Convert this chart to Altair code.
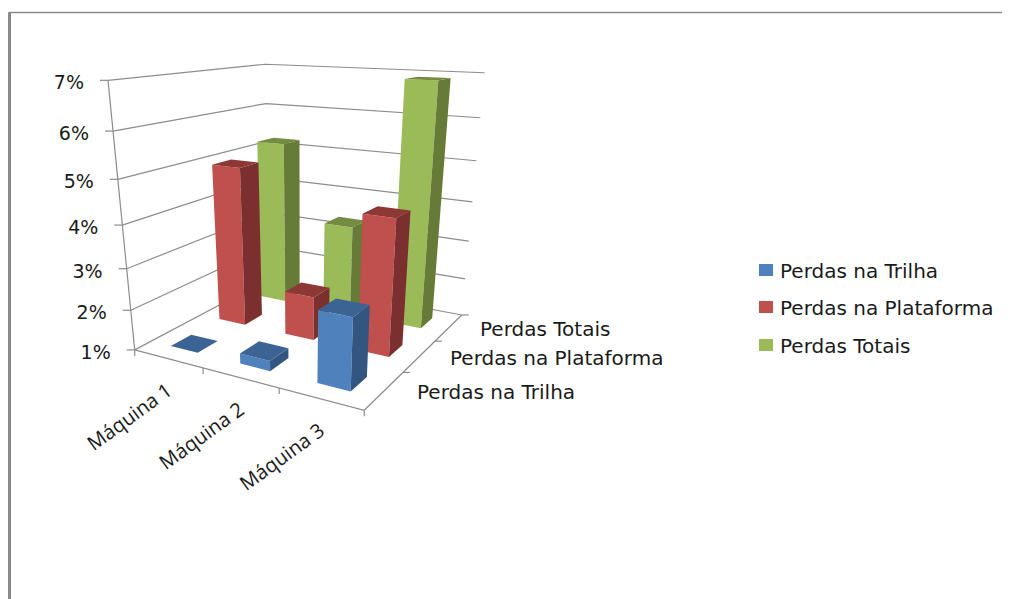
import altair as alt
import numpy as np
import pandas as pd

MACHINES = ["Máquina 1", "Máquina 2", "Máquina 3"]
SERIES = ["Perdas na Trilha", "Perdas na Plataforma", "Perdas Totais"]
TRILHA = [1.0, 1.25, 2.68]
PLATAFORMA = [4.95, 2.1, 4.26]
TOTAIS = [5.22, 3.33, 6.9]
PCT_TICKS = [1, 2, 3, 4, 5, 6, 7]
FRONT = ["#4F81BD", "#C0504D", "#9BBB59"]
SIDE = ["#325680", "#7B2F2E", "#667B38"]
TOP = ["#3B6494", "#8E3836", "#748C42"]
BAR_W = 0.40
BAR_D = 0.40

# perspective camera fitted to the wall and floor corners seen in the reference
corr = [
    (0, 0, 1, 135, 349), (0, 0, 2, 130, 309), (0, 0, 3, 127, 268), (0, 0, 4, 123, 224),
    (0, 0, 5, 118, 179), (0, 0, 6, 113, 132), (0, 0, 7, 108, 81),
    (0, 3, 7, 265, 64), (0, 3, 6, 265, 103), (0, 3, 1, 270, 280),
    (3, 3, 7, 486, 73), (3, 3, 6, 481, 118), (3, 3, 5, 476, 161), (3, 3, 4, 471, 202),
    (3, 3, 3, 467, 241), (3, 3, 2, 466, 279), (3, 3, 1, 461, 314),
    (3, 0, 1, 364, 409), (1, 0, 1, 203, 370), (2, 0, 1, 278, 390),
    (3, 1, 1, 403, 373), (3, 2, 1, 437, 340),
]
A, b = [], []
for u, v, h, px, py in corr:
    A.append([u, v, h, 1, 0, 0, 0, 0, -px * u, -px * v, -px * h])
    b.append(px)
    A.append([0, 0, 0, 0, u, v, h, 1, -py * u, -py * v, -py * h])
    b.append(py)
P = np.append(np.linalg.lstsq(np.array(A, float), np.array(b, float), rcond=None)[0], 1).reshape(3, 4)


def proj(u, v, h):
    q = P @ np.array([u, v, h, 1.0])
    return float(q[0] / q[2]), float(q[1] / q[2])


# ---- bars, painted back to front
rows = []
shade_dom, shade_rng = [], []
n_faces = [0]


def face(name, color, pts):
    if color not in shade_dom:
        shade_dom.append(color)
        shade_rng.append(color)
    n_faces[0] += 1
    for i, p in enumerate(pts):
        x, y = proj(*p)
        rows.append({"id": f"{n_faces[0]:05d}{name}", "i": i, "x": x, "y": y, "shade": color})


values = [TRILHA, PLATAFORMA, TOTAIS]
for s in [2, 1, 0]:
    for m in range(3):
        v = values[s][m]
        u0, u1 = m + 0.5 - BAR_W / 2, m + 0.5 + BAR_W / 2
        d0, d1 = s + 0.5 - BAR_D / 2, s + 0.5 + BAR_D / 2
        face("f", FRONT[s], [(u0, d0, 1), (u1, d0, 1), (u1, d0, v), (u0, d0, v)])
        face("s", SIDE[s], [(u1, d0, 1), (u1, d1, 1), (u1, d1, v), (u1, d0, v)])
        face("t", TOP[s], [(u0, d0, v), (u1, d0, v), (u1, d1, v), (u0, d1, v)])
bars = pd.DataFrame(rows)

# ---- gridlines and axis lines
lines = []


def polyline(name, pts):
    for i, (x, y) in enumerate(pts):
        lines.append({"id": name, "i": i, "x": x, "y": y})


for k in PCT_TICKS:
    polyline(f"grid{k}", [proj(0, 0, k), proj(0, 3, k), proj(3, 3, k)])
    x, y = proj(0, 0, k)
    polyline(f"tick{k}", [(x - 8, y), (x, y)])
polyline("left", [proj(0, 0, 1), proj(0, 0, 7)])
polyline("front", [proj(0, 0, 1), proj(3, 0, 1), proj(3, 3, 1)])
for m in range(4):
    x, y = proj(m, 0, 1)
    polyline(f"ut{m}", [(x, y), (x, y + 6)])
for s in range(1, 4):
    x, y = proj(3, s, 1)
    polyline(f"vt{s}", [(x, y), (x + 7, y)])
grid = pd.DataFrame(lines)

frame = pd.DataFrame({"id": "frame", "i": [0, 1, 2], "x": [9.5, 9.5, 1002], "y": [599, 12.5, 12.5]})

# ---- texts
pct_rows = []
for k in PCT_TICKS:
    x, y = proj(0, 0, k)
    pct_rows.append({"t": f"{k}%", "x": x - 24, "y": y + 3})
pct = pd.DataFrame(pct_rows)

mach = pd.DataFrame([
    {"t": t, "x": proj(i + 0.5, 0, 1)[0] + 2, "y": proj(i + 0.5, 0, 1)[1] + 30}
    for i, t in enumerate(MACHINES)
])
depth = pd.DataFrame({"t": SERIES, "x": [417, 450, 480], "y": [393, 359, 330]})
legend = pd.DataFrame({"t": SERIES, "x": [780] * 3, "y": [272, 309, 347],
                       "x0": [759] * 3, "x1": [773] * 3,
                       "y0": [264, 301, 339], "y1": [276, 313, 351], "c": FRONT})

sx = alt.Scale(domain=[8, 1002], range=[0, 994], nice=False, zero=False)
sy = alt.Scale(domain=[599, 8], range=[591, 0], nice=False, zero=False)
X = alt.X("x:Q", scale=sx, axis=None)
Y = alt.Y("y:Q", scale=sy, axis=None)

FONT = "DejaVu Sans"
TXT = "#1a1a1a"

shade_scale = alt.Scale(domain=shade_dom, range=shade_rng)
bars_l = alt.Chart(bars).mark_line(filled=True, strokeWidth=0.6, interpolate="linear-closed").encode(
    x=X, y=Y, detail="id:N", order=alt.Order("i:Q"),
    color=alt.Color("shade:N", scale=shade_scale, legend=None),
)
grid_l = alt.Chart(grid).mark_line(color="#8c8c8c", strokeWidth=1.2).encode(
    x=X, y=Y, detail="id:N", order=alt.Order("i:Q"))
frame_l = alt.Chart(frame).mark_line(color="#8a8a8a", strokeWidth=1.5).encode(
    x=X, y=Y, order=alt.Order("i:Q"))
left_l = alt.Chart(frame[frame.x < 100]).mark_line(color="#8a8a8a", strokeWidth=3).encode(
    x=X, y=Y, order=alt.Order("i:Q"))
pct_l = alt.Chart(pct).mark_text(align="right", baseline="middle", font=FONT, fontSize=19, color=TXT).encode(
    x=X, y=Y, text="t:N")
mach_l = alt.Chart(mach).mark_text(align="right", baseline="middle", font="Open Sans", fontSize=20, angle=324, color=TXT).encode(
    x=X, y=Y, text="t:N")
depth_l = alt.Chart(depth).mark_text(align="left", baseline="middle", font=FONT, fontSize=20, color=TXT).encode(
    x=X, y=Y, text="t:N")
leg_sw = alt.Chart(legend).mark_rect().encode(
    x=alt.X("x0:Q", scale=sx, axis=None), x2="x1:Q",
    y=alt.Y("y0:Q", scale=sy, axis=None), y2="y1:Q",
    color=alt.Color("c:N", scale=None))
leg_tx = alt.Chart(legend).mark_text(align="left", baseline="middle", font=FONT, fontSize=20, color=TXT).encode(
    x=X, y=Y, text="t:N")

chart = alt.layer(frame_l, left_l, grid_l, bars_l, pct_l, mach_l, depth_l, leg_sw, leg_tx).properties(
    width=994, height=591, padding=0, autosize=alt.AutoSizeParams(type="none"),
    background="white",
).configure_view(stroke=None)

chart.save("out.html", embed_options={"renderer": "svg", "actions": False})
